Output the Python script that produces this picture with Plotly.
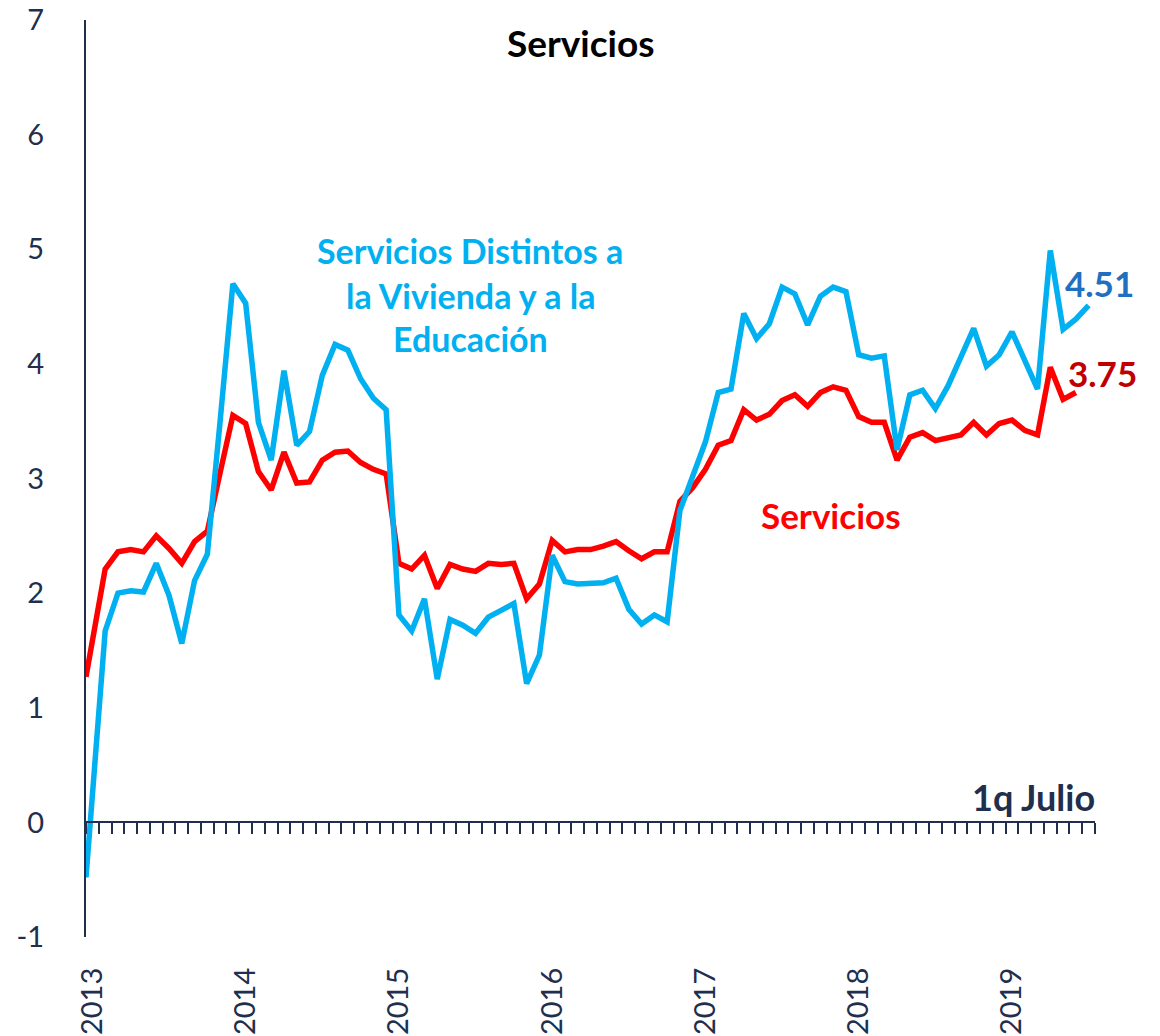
import plotly.graph_objects as go

# Monthly categories Jan 2013 .. Jul 2019 (last = 1q Julio)
months = [f"{y}-{m:02d}" for y in range(2013, 2020) for m in range(1, 13)][:79]

servicios_distintos = [
    -0.48, 1.67, 2.00, 2.02, 2.01, 2.26, 1.98, 1.56, 2.11, 2.34, 3.50, 4.70,
    4.53, 3.49, 3.16, 3.94, 3.29, 3.41, 3.90, 4.17, 4.12, 3.87, 3.70, 3.60,
    1.81, 1.67, 1.95, 1.25, 1.77, 1.72, 1.65, 1.79, 1.85, 1.91, 1.21, 1.46,
    2.33, 2.10, 2.08, 2.08, 2.09, 2.13, 1.86, 1.73, 1.81, 1.75, 2.72, 3.02,
    3.32, 3.75, 3.78, 4.44, 4.22, 4.35, 4.67, 4.61, 4.34, 4.59, 4.67, 4.63,
    4.08, 4.05, 4.07, 3.25, 3.73, 3.77, 3.61, 3.81, 4.07, 4.31, 3.98, 4.08,
    4.28, 4.03, 3.78, 4.99, 4.30, 4.39, 4.51,
]

servicios = [
    1.27, 2.21, 2.36, 2.38, 2.36, 2.50, 2.39, 2.26, 2.45, 2.54, 3.05, 3.55,
    3.48, 3.06, 2.90, 3.23, 2.96, 2.97, 3.16, 3.23, 3.24, 3.14, 3.08, 3.04,
    2.26, 2.21, 2.33, 2.04, 2.25, 2.21, 2.19, 2.26, 2.25, 2.26, 1.95, 2.08,
    2.46, 2.36, 2.38, 2.38, 2.41, 2.45, 2.37, 2.30, 2.36, 2.36, 2.80, 2.92,
    3.08, 3.29, 3.33, 3.60, 3.51, 3.56, 3.68, 3.73, 3.63, 3.75, 3.80, 3.77,
    3.54, 3.49, 3.49, 3.16, 3.36, 3.40, 3.33, 3.36, 3.38, 3.49, 3.38, 3.48,
    3.51, 3.42, 3.38, 3.97, 3.69, 3.75, None,
]

y_ticks = [-1, 0, 1, 2, 3, 4, 5, 6, 7]

n = len(months)
xr = [-0.5, n - 0.5]
# category positions; the first observation sits on the axis origin (as in the source chart)
x_idx = [xr[0]] + list(range(1, n))
year_vals = [i for i, m in enumerate(months) if m.endswith("-01")]
year_text = [months[i][:4] for i in year_vals]

NAVY = "#1F2F4D"
BLUE = "#00B0F0"
RED = "#FF0000"
FONT = "Lato"

fig = go.Figure()
fig.add_trace(go.Scatter(x=x_idx, y=servicios, mode="lines",
                         line=dict(color=RED, width=5.5), name="Servicios",
                         connectgaps=False))
fig.add_trace(go.Scatter(x=x_idx, y=servicios_distintos, mode="lines",
                         line=dict(color=BLUE, width=5.5),
                         name="Servicios Distintos a la Vivienda y a la Educación"))
# invisible trace to activate the zero-line category axis
fig.add_trace(go.Scatter(x=[xr[0]], y=[None], xaxis="x2", yaxis="y",
                         mode="lines", showlegend=False, hoverinfo="skip"))

fig.update_layout(
    width=1160, height=1036,
    margin=dict(l=86, r=65, t=20, b=99),
    paper_bgcolor="white", plot_bgcolor="white",
    showlegend=False,
    font=dict(family=FONT, color=NAVY),
    xaxis=dict(range=xr, tickmode="array", tickvals=year_vals, ticktext=year_text,
               tickangle=-90, showline=False, showgrid=False, zeroline=False,
               ticks="", tickfont=dict(size=29, color=NAVY), ticklabelstandoff=24,
               automargin=False),
    xaxis2=dict(range=xr, overlaying="x", anchor="free", position=0.125,
                side="bottom", tickmode="linear", tick0=-0.5, dtick=1,
                ticks="outside", ticklen=11, tickwidth=2, tickcolor=NAVY,
                showline=True, linecolor=NAVY, linewidth=2,
                showticklabels=False, showgrid=False, zeroline=False,
                automargin=False),
    yaxis=dict(range=[-1, 7], tickmode="array", tickvals=y_ticks,
               ticktext=[str(v) for v in y_ticks],
               showline=True, linecolor=NAVY, linewidth=2, showgrid=False,
               zeroline=False, ticks="", tickfont=dict(size=29, color=NAVY),
               ticklabelstandoff=34, automargin=False),
)


def ann(text, x, y, color, size=34, xanchor="center"):
    fig.add_annotation(text=f"<b>{text}</b>", x=x, y=y, xref="paper", yref="paper",
                       showarrow=False, xanchor=xanchor, yanchor="middle",
                       font=dict(family=FONT, size=size, color=color))


ann("Servicios", 0.4896, 0.976, "black", size=37)
ann("Servicios Distintos a", 0.3806, 0.749, BLUE)
ann("la Vivienda y a la", 0.3806, 0.700, BLUE)
ann("Educación", 0.3806, 0.653, BLUE)
ann("Servicios", 0.738, 0.460, RED, size=35)
ann("4.51", 0.968, 0.713, "#1F70C0", size=35, xanchor="left")
ann("3.75", 0.971, 0.615, "#C00000", size=35, xanchor="left")
ann("1q Julio", 1.002, 0.153, NAVY, size=36, xanchor="right")

fig.write_html("out.html",
               config={"displayModeBar": False},
               post_script="document.body.style.margin='0px';document.body.style.overflow='hidden';")
